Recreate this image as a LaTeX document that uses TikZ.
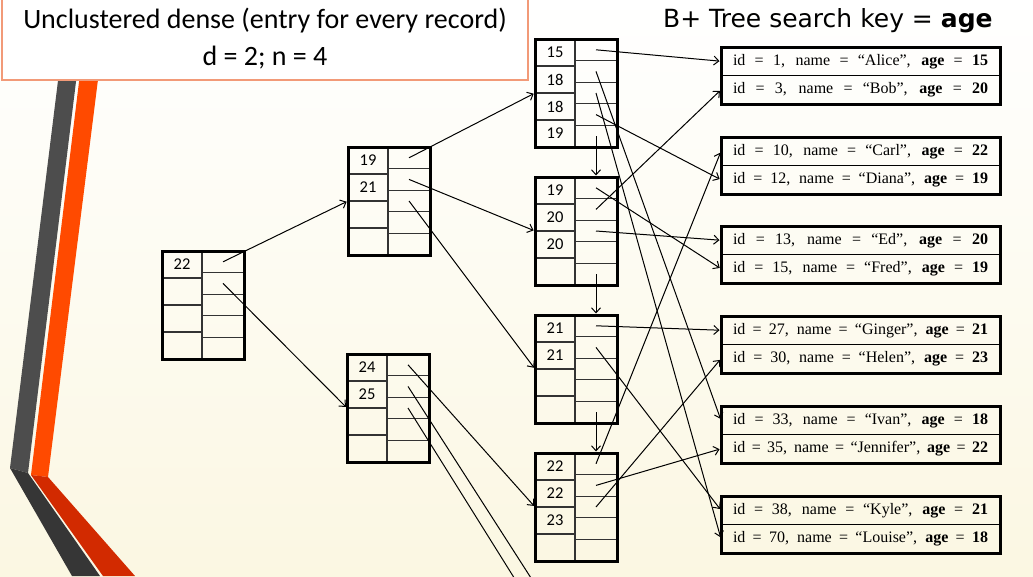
\documentclass[tikz,border=0pt]{standalone}
\usepackage{fontspec}
\setmainfont{Liberation Serif}
\newfontfamily\slidefont{Carlito}
\newfontfamily\headfont{DejaVu Sans}
\usetikzlibrary{positioning, arrows.meta}
\definecolor{stripegray}{HTML}{4D4D4D}
\definecolor{stripedark}{HTML}{363636}
\definecolor{stripeorange}{HTML}{FF4A00}
\definecolor{stripered}{HTML}{D22A00}
\definecolor{boxedge}{HTML}{F29A78}
\definecolor{cream}{HTML}{FBF7E2}
\newcommand{\rowtext}[1]{\makebox[255pt][s]{#1}}

\tikzset{
  ptr/.style={-{Straight Barb[length=5pt,width=9pt]}, line width=1pt, shorten >=1.5pt},
  bnode/.style={draw, line width=3pt, minimum width=82pt, minimum height=108pt, inner sep=0pt, outer sep=0pt, anchor=north west},
  cell/.style={line width=1.2pt, draw=black!80},
  keytext/.style={font=\slidefont\fontsize{16.5}{16.5}\selectfont, inner sep=0pt},
  rec/.style={draw, line width=1.2pt, minimum width=279pt, minimum height=28.5pt, inner sep=0pt, outer sep=0pt, anchor=north west, font=\fontsize{16}{16}\selectfont},
  titlebox/.style={draw=boxedge, fill=white, line width=1.5pt, minimum width=526pt, minimum height=82pt, align=center, font=\slidefont\fontsize{28}{37}\selectfont},
}

\begin{document}
\begin{tikzpicture}[x=1pt, y=-1pt]
  \useasboundingbox (0,0) rectangle (1033,576);
  \clip (0,0) rectangle (1033,576);
  \shade[top color=white, middle color=white, bottom color=cream] (0,0) rectangle (1033,576);% 背景

  % 左の帯
  \fill[stripegray] (68,0) -- (86,0) -- (28,473) -- (10,468) -- cycle;
  \fill[stripedark] (10,468) -- (28,473) -- (100,576) -- (72,576) -- cycle;
  \fill[stripeorange] (89,0) -- (108,0) -- (48,477) -- (31,475) -- cycle;
  \fill[stripered] (31,475) -- (48,477) -- (135,576) -- (103,576) -- cycle;

  \node[titlebox] (title) at (265,39) {Unclustered dense (entry for every record)\\ d = 2; n = 4};
  \node[anchor=base west, inner sep=0pt, font=\headfont\fontsize{25}{25}\selectfont] (heading) at (663,27) {B+ Tree search key = \textbf{age}};

  % B+木のノード
  \foreach \n/\x/\y in {root/162/251, in1/348/147, in2/347/354, lf1/535/39, lf2/535/177, lf3/535/315, lf4/535/453}{
    \draw[cell] (\x+40,\y) -- (\x+40,\y+108);
    \foreach \i in {1,2,3} \draw[cell] (\x,\y+27*\i) -- (\x+40,\y+27*\i);
    \foreach \i in {1,...,4} \draw[cell] (\x+40,\y+21.6*\i) -- (\x+82,\y+21.6*\i);
    \foreach \i in {1,...,4} \coordinate (\n-k\i) at (\x+20,\y+27*\i-13.5);%キー
    \foreach \i in {1,...,5} \coordinate (\n-p\i) at (\x+61,\y+21.6*\i-10.8);%ポインタ
    \node[bnode] (\n) at (\x,\y) {};
  }
  \foreach \n/\i/\t in {root/1/22, in1/1/19, in1/2/21, in2/1/24, in2/2/25, lf1/1/15, lf1/2/18, lf1/3/18, lf1/4/19, lf2/1/19, lf2/2/20, lf2/3/20, lf3/1/21, lf3/2/21, lf4/1/22, lf4/2/22, lf4/3/23}
    \node[keytext] (\n-t\i) at (\n-k\i) {\t};

  % レコード
  \node[rec] (alice) at (721,47) {\rowtext{id = 1, name = “Alice”, \textbf{age} = \textbf{15}}};
  \node[rec, below=0pt of alice] (bob) {\rowtext{id = 3, name = “Bob”, \textbf{age} = \textbf{20}}};
  \node[rec] (carl) at (721,137) {\rowtext{id = 10, name = “Carl”, \textbf{age} = \textbf{22}}};
  \node[rec, below=0pt of carl] (diana) {\rowtext{id = 12, name = “Diana”, \textbf{age} = \textbf{19}}};
  \node[rec] (ed) at (721,226) {\rowtext{id = 13, name = “Ed”, \textbf{age} = \textbf{20}}};
  \node[rec, below=0pt of ed] (fred) {\rowtext{id = 15, name = “Fred”, \textbf{age} = \textbf{19}}};
  \node[rec] (ginger) at (721,316) {\rowtext{id = 27, name = “Ginger”, \textbf{age} = \textbf{21}}};
  \node[rec, below=0pt of ginger] (helen) {\rowtext{id = 30, name = “Helen”, \textbf{age} = \textbf{23}}};
  \node[rec] (ivan) at (721,406) {\rowtext{id = 33, name = “Ivan”, \textbf{age} = \textbf{18}}};
  \node[rec, below=0pt of ivan] (jennifer) {\rowtext{id = 35, name = “Jennifer”, \textbf{age} = \textbf{22}}};
  \node[rec] (kyle) at (721,496) {\rowtext{id = 38, name = “Kyle”, \textbf{age} = \textbf{21}}};
  \node[rec, below=0pt of kyle] (louise) {\rowtext{id = 70, name = “Louise”, \textbf{age} = \textbf{18}}};
  \foreach \a/\b in {alice/bob, carl/diana, ed/fred, ginger/helen, ivan/jennifer, kyle/louise}
    \draw[line width=3pt] (\a.north west) rectangle (\b.south east);

  % 矢印
  \coordinate (offa) at (540,592);%画面の外
  \coordinate (offb) at (523,592);
  \draw[ptr] (root-p1) -- (in1.west);
  \draw[ptr] (root-p2) -- (in2.west);
  \draw[ptr] (in1-p1) -- (lf1.west);
  \draw[ptr] (in1-p2) -- (lf2.west);
  \draw[ptr] (in1-p3) -- (lf3.west);
  \draw[ptr] (in2-p1) -- (lf4.west);
  \draw[ptr] (in2-p2) -- (offa);
  \draw[ptr] (in2-p3) -- (offb);
  \draw[ptr] (lf1-p5) -- (lf1-p5 |- lf2.north);
  \draw[ptr] (lf2-p5) -- (lf2-p5 |- lf3.north);
  \draw[ptr] (lf3-p5) -- (lf3-p5 |- lf4.north);
  \draw[ptr] (lf1-p1) -- (alice.west);
  \draw[ptr] (lf1-p2) -- (ivan.west);
  \draw[ptr] (lf1-p3) -- (louise.west);
  \draw[ptr] (lf1-p4) -- (diana.west);
  \draw[ptr] (lf2-p1) -- (fred.west);
  \draw[ptr] (lf2-p2) -- (bob.west);
  \draw[ptr] (lf2-p3) -- (ed.west);
  \draw[ptr] (lf3-p1) -- (ginger.west);
  \draw[ptr] (lf3-p2) -- (kyle.west);
  \draw[ptr] (lf4-p1) -- (carl.west);
  \draw[ptr] (lf4-p2) -- (jennifer.west);
  \draw[ptr] (lf4-p3) -- (helen.west);
\end{tikzpicture}
\end{document}
